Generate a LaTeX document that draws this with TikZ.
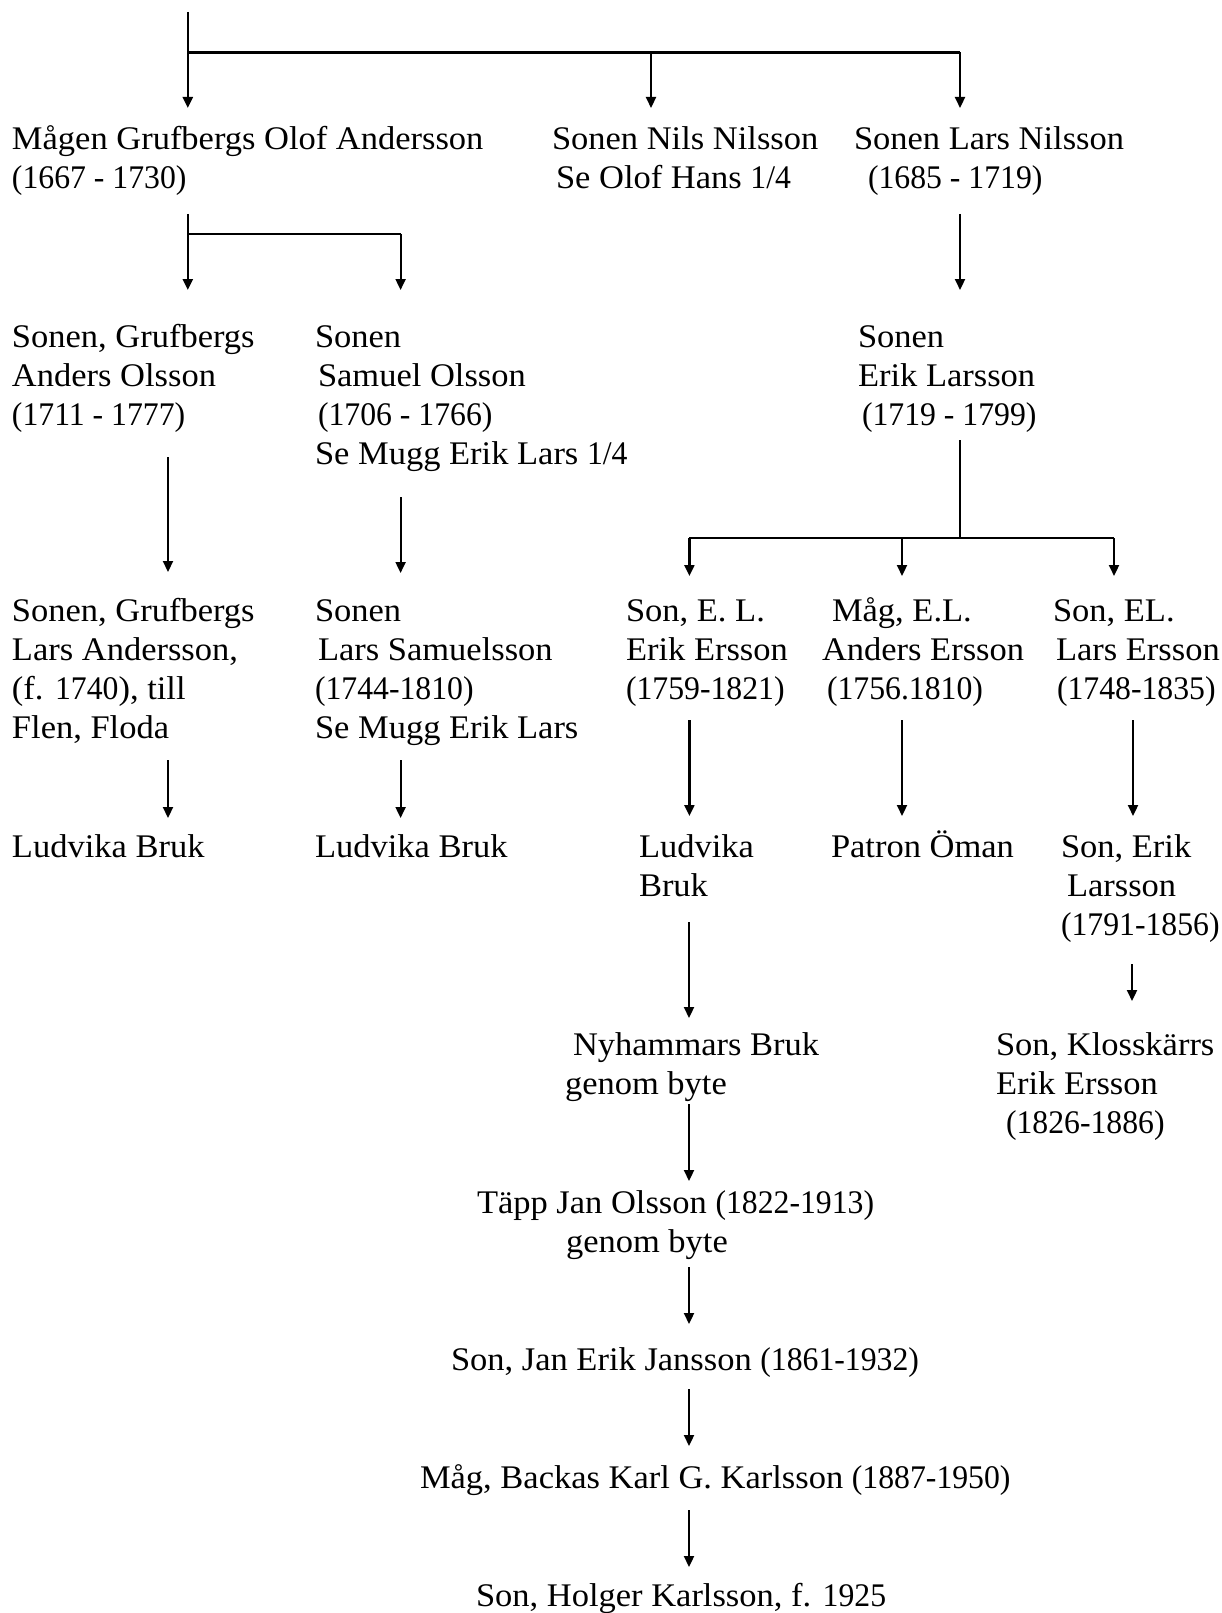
\documentclass[tikz,border=0pt]{standalone}
\usepackage{fontspec}
\usepackage{graphicx}
\setmainfont{Liberation Serif}[FakeStretch=1.045]
\usetikzlibrary{arrows.meta}
\tikzset{
  lbl/.style={anchor=base west, inner sep=0pt, outer sep=0pt, font=\fontsize{33}{39}\selectfont},
  conn/.style={line width=2.2pt},
  bar/.style={line width=2.8pt},
  arr/.style={conn, -{Triangle[length=11pt,width=10pt]}},
}
\newcommand{\blk}[1]{\begin{tabular}[t]{@{}l@{}}#1\end{tabular}}
\newcommand{\yr}[1]{\scalebox{0.92}[1]{#1}}
\begin{document}
\begin{tikzpicture}[x=1pt,y=-1pt]
\useasboundingbox (0,0) rectangle (1221,1613);
% ---------- text blocks ----------
\node[lbl] (n1)  at (12,150)  {\blk{Mågen Grufbergs Olof Andersson\\\yr{(1667 - 1730)}}};
\node[lbl] (n2)  at (552,150) {\blk{Sonen Nils Nilsson\\\hspace*{4pt}Se Olof Hans \yr{1/4}}};
\node[lbl] (n3)  at (854,150) {\blk{Sonen Lars Nilsson\\\hspace*{14pt}\yr{(1685 - 1719)}}};
\node[lbl] (n4)  at (12,347)  {\blk{Sonen, Grufbergs\\Anders Olsson\\\yr{(1711 - 1777)}}};
\node[lbl] (n5)  at (315,347) {\blk{Sonen\\\hspace*{3pt}Samuel Olsson\\\hspace*{3pt}\yr{(1706 - 1766)}\\Se Mugg Erik Lars \yr{1/4}}};
\node[lbl] (n6)  at (858,347) {\blk{Sonen\\Erik Larsson\\\hspace*{4pt}\yr{(1719 - 1799)}}};
\node[lbl] (n7)  at (12,621)  {\blk{Sonen, Grufbergs\\Lars Andersson,\\(f. \yr{1740}), till\\Flen, Floda}};
\node[lbl] (n8)  at (315,621) {\blk{Sonen\\\hspace*{3pt}Lars Samuelsson\\\yr{(1744-1810)}\\Se Mugg Erik Lars}};
\node[lbl] (n9)  at (626,621) {\blk{Son, E. L.\\Erik Ersson\\\yr{(1759-1821)}}};
\node[lbl] (n10) at (822,621) {\blk{\hspace*{10pt}Måg, E.L.\\Anders Ersson\\\hspace*{5pt}\yr{(1756.1810)}}};
\node[lbl] (n11) at (1053,621){\blk{Son, EL.\\\hspace*{3pt}Lars Ersson\\\hspace*{4pt}\yr{(1748-1835)}}};
\node[lbl] (n12) at (12,857)  {Ludvika Bruk};
\node[lbl] (n13) at (315,857) {Ludvika Bruk};
\node[lbl] (n14) at (639,857) {\blk{Ludvika\\Bruk}};
\node[lbl] (n15) at (831,857) {Patron Öman};
\node[lbl] (n16) at (1061,857){\blk{Son, Erik\\\hspace*{6pt}Larsson\\\yr{(1791-1856)}}};
\node[lbl] (n17) at (565,1055){\blk{\hspace*{8pt}Nyhammars Bruk\\genom byte}};
\node[lbl] (n18) at (996,1055){\blk{Son, Klosskärrs\\Erik Ersson\\\hspace*{10pt}\yr{(1826-1886)}}};
\node[lbl] (n19) at (477,1213){\blk{Täpp Jan Olsson \yr{(1822-1913)}\\\hspace*{89pt}genom byte}};
\node[lbl] (n20) at (451,1370){Son, Jan Erik Jansson \yr{(1861-1932)}};
\node[lbl] (n21) at (420,1488){Måg, Backas Karl G. Karlsson \yr{(1887-1950)}};
\node[lbl] (n22) at (476,1606){Son, Holger Karlsson, f. \yr{1925}};
% ---------- connector points ----------
\coordinate (top)   at (187.8,12);
\coordinate (j1a)   at (187.8,52.5);
\coordinate (j1b)   at (651,52.5);
\coordinate (j1c)   at (960,52.5);
\coordinate (e1a)   at (187.8,108);
\coordinate (e1b)   at (651,108);
\coordinate (e1c)   at (960,108);
\coordinate (s2a)   at (187.8,214);
\coordinate (j2a)   at (187.8,234);
\coordinate (j2b)   at (400.6,234);
\coordinate (e2a)   at (187.8,290);
\coordinate (e2b)   at (400.6,290);
\coordinate (s2c)   at (960,214);
\coordinate (e2c)   at (960,290);
\coordinate (s3a)   at (168,457);
\coordinate (e3a)   at (168,572);
\coordinate (s3b)   at (400.6,497);
\coordinate (e3b)   at (400.6,573);
\coordinate (s3c)   at (960,440);
\coordinate (j3c)   at (960,538);
\coordinate (j3l)   at (689.4,538);
\coordinate (j3m)   at (902,538);
\coordinate (j3r)   at (1114,538);
\coordinate (e3l)   at (689.4,576);
\coordinate (e3m)   at (902,576);
\coordinate (e3r)   at (1114,576);
\coordinate (s4a)   at (168,760);
\coordinate (e4a)   at (168,818);
\coordinate (s4b)   at (400.6,760);
\coordinate (e4b)   at (400.6,818);
\coordinate (s4c)   at (689.4,720);
\coordinate (e4c)   at (689.4,816);
\coordinate (s4d)   at (902,720);
\coordinate (e4d)   at (902,816);
\coordinate (s4e)   at (1133,720);
\coordinate (e4e)   at (1133,816);
\coordinate (s5a)   at (689,922);
\coordinate (e5a)   at (689,1018);
\coordinate (s5b)   at (1132,964);
\coordinate (e5b)   at (1132,1001);
\coordinate (s6)    at (689,1104);
\coordinate (e6)    at (689,1181);
\coordinate (s7)    at (689,1267);
\coordinate (e7)    at (689,1324);
\coordinate (s8)    at (689,1389);
\coordinate (e8)    at (689,1446);
\coordinate (s9)    at (689,1510);
\coordinate (e9)    at (689,1567);
% ---------- connectors ----------
\draw[arr] (top) -- (e1a);
\draw[bar] (j1a) -- (j1c);
\draw[arr] (j1b) -- (e1b);
\draw[arr] (j1c) -- (e1c);
\draw[arr] (s2a) -- (e2a);
\draw[bar] (j2a) -- (j2b);
\draw[arr] (j2b) -- (e2b);
\draw[arr] (s2c) -- (e2c);
\draw[arr] (s3a) -- (e3a);
\draw[arr] (s3b) -- (e3b);
\draw[conn] (s3c) -- (j3c);
\draw[bar] (j3l) -- (j3r);
\draw[arr] (j3l) -- (e3l);
\draw[arr] (j3m) -- (e3m);
\draw[arr] (j3r) -- (e3r);
\draw[arr] (s4a) -- (e4a);
\draw[arr] (s4b) -- (e4b);
\draw[arr] (s4c) -- (e4c);
\draw[arr] (s4d) -- (e4d);
\draw[arr] (s4e) -- (e4e);
\draw[arr] (s5a) -- (e5a);
\draw[arr] (s5b) -- (e5b);
\draw[arr] (s6) -- (e6);
\draw[arr] (s7) -- (e7);
\draw[arr] (s8) -- (e8);
\draw[arr] (s9) -- (e9);
\end{tikzpicture}
\end{document}
